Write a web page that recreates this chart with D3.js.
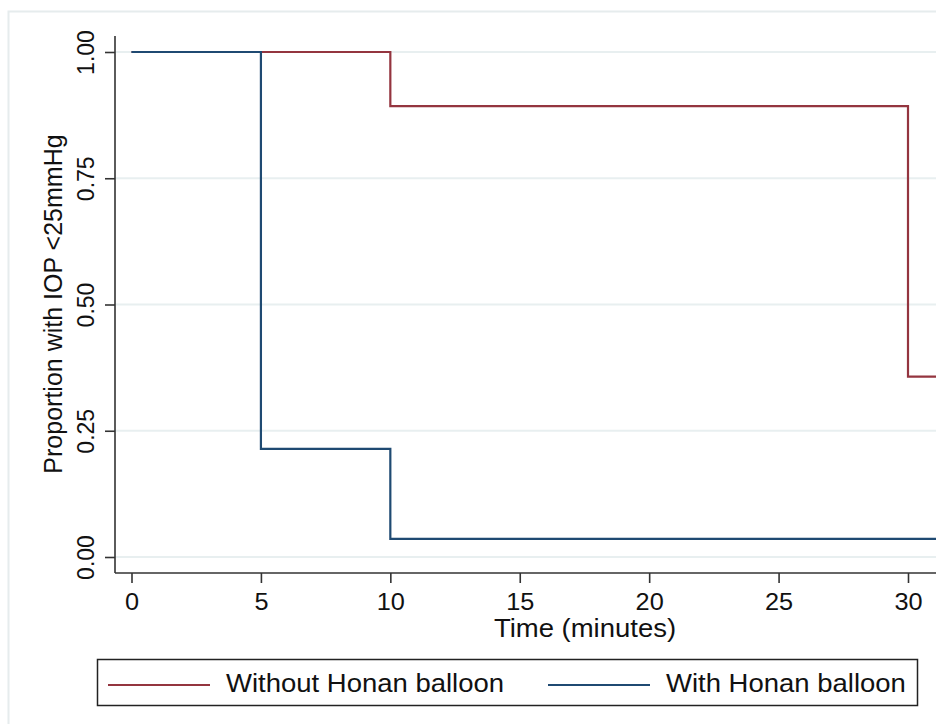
<!DOCTYPE html>
<html>
<head>
<meta charset="utf-8">
<script src="https://cdn.jsdelivr.net/npm/d3@7"></script>
<style>
  body { margin: 0; background: #fff; }
  svg { display: block; font-family: "Liberation Sans", Arial, sans-serif; }
</style>
</head>
<body>
<div id="chart"></div>
<script>
// Kaplan-Meier style step chart - IOP < 25mmHg

const groups = ["Without Honan balloon", "With Honan balloon"];
const withoutTimes = [0, 10, 30];
const withoutValues = [1.00, 0.893, 0.357];
const withTimes = [0, 5, 10];
const withValues = [1.00, 0.214, 0.036];
const endTime = 33;
const xTicks = [0, 5, 10, 15, 20, 25, 30];
const yTicks = [0, 0.25, 0.5, 0.75, 1];

const width = 936;
const height = 724;
const stretch = 1.1; // text in the original is a bit wide

const svg = d3.select("#chart")
    .append("svg")
    .attr("width", width)
    .attr("height", height);

// outer graph frame
svg.append("rect")
    .attr("x", 8.5).attr("y", 11.5)
    .attr("width", 1000).attr("height", 800)
    .attr("fill", "#fff")
    .attr("stroke", "#e6eced")
    .attr("stroke-width", 2);

const x = d3.scaleLinear().domain([0, 30]).range([131.5, 908]);
const y = d3.scaleLinear().domain([0, 1]).range([557, 52]);

const axisLeft = 115;
const axisBottom = 573;
const axisTop = 36;

// gridlines
svg.append("g")
    .selectAll("line")
    .data(yTicks)
    .join("line")
    .attr("x1", axisLeft).attr("x2", width)
    .attr("y1", d => y(d)).attr("y2", d => y(d))
    .attr("stroke", "#e8eff0")
    .attr("stroke-width", 2);

// y axis
const yAxis = svg.append("g")
    .attr("transform", `translate(${axisLeft},0)`)
    .call(d3.axisLeft(y).tickValues(yTicks).tickFormat(d3.format(".2f")).tickSize(10).tickSizeOuter(0));
yAxis.select(".domain").remove();
yAxis.append("line")
    .attr("y1", axisTop).attr("y2", axisBottom)
    .attr("stroke", "#333").attr("stroke-width", 1.6);
yAxis.selectAll(".tick line").attr("stroke", "#333").attr("stroke-width", 1.6);
yAxis.selectAll(".tick text")
    .attr("x", null).attr("dy", null)
    .attr("transform", "translate(-21,0) rotate(-90)")
    .attr("text-anchor", "middle")
    .style("font-size", "23px")
    .style("fill", "#111");

// x axis
const xAxis = svg.append("g")
    .attr("transform", `translate(0,${axisBottom})`)
    .call(d3.axisBottom(x).tickValues(xTicks).tickFormat(d3.format("d")).tickSize(10).tickSizeOuter(0));
xAxis.select(".domain").remove();
xAxis.append("line")
    .attr("x1", axisLeft).attr("x2", width)
    .attr("stroke", "#333").attr("stroke-width", 1.6);
xAxis.selectAll(".tick line").attr("stroke", "#333").attr("stroke-width", 1.6);
xAxis.selectAll(".tick text")
    .attr("y", 21)
    .attr("transform", `scale(${stretch},1)`)
    .style("font-size", "23px")
    .style("fill", "#111");

// axis titles
svg.append("text")
    .attr("transform", `translate(585,637) scale(${stretch},1)`)
    .attr("text-anchor", "middle")
    .style("font-size", "25px")
    .style("fill", "#111")
    .text("Time (minutes)");

svg.append("text")
    .attr("transform", "translate(62,304) rotate(-90)")
    .attr("text-anchor", "middle")
    .style("font-size", "25px")
    .style("fill", "#111")
    .text("Proportion with IOP <25mmHg");

// step curves
const color = d3.scaleOrdinal().domain(groups).range(["#94353f", "#1f4a72"]);

const series = [
    { name: groups[0], pts: withoutTimes.map((t, i) => ({ t, v: withoutValues[i] })) },
    { name: groups[1], pts: withTimes.map((t, i) => ({ t, v: withValues[i] })) }
];
series.forEach(s => s.pts.push({ t: endTime, v: s.pts[s.pts.length - 1].v }));

const line = d3.line()
    .x(d => x(d.t))
    .y(d => y(d.v))
    .curve(d3.curveStepAfter);

svg.append("g")
    .selectAll("path")
    .data(series)
    .join("path")
    .attr("d", d => line(d.pts))
    .attr("fill", "none")
    .attr("stroke", d => color(d.name))
    .attr("stroke-width", 2.2);

// legend
const legend = svg.append("g");
legend.append("rect")
    .attr("x", 97.5).attr("y", 659.5)
    .attr("width", 820).attr("height", 46)
    .attr("fill", "#fff")
    .attr("stroke", "#222")
    .attr("stroke-width", 1.5);

const legendX = [108, 548];
const items = legend.selectAll("g.item")
    .data(groups)
    .join("g")
    .attr("class", "item")
    .attr("transform", (d, i) => `translate(${legendX[i]},685)`);
items.append("line")
    .attr("x1", 0).attr("x2", 102)
    .attr("stroke", d => color(d))
    .attr("stroke-width", 2.2);
items.append("text")
    .attr("transform", `translate(118,7) scale(${stretch},1)`)
    .style("font-size", "25px")
    .style("fill", "#111")
    .text(d => d);
</script>
</body>
</html>
